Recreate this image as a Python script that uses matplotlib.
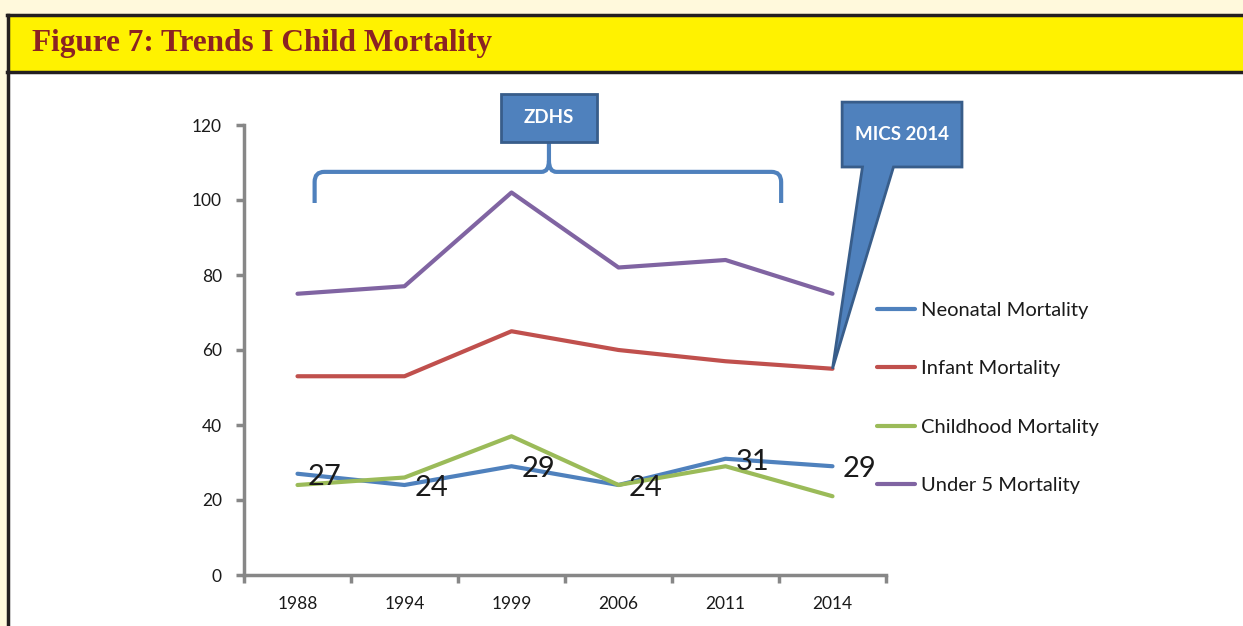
import numpy as np
import matplotlib
matplotlib.use("Agg")
import matplotlib.pyplot as plt
from matplotlib.patches import Rectangle, Polygon, PathPatch
from matplotlib.path import Path

# ---data
years = ["1988", "1994", "1999", "2006", "2011", "2014"]
neonatal = [27, 24, 29, 24, 31, 29]
infant = [53, 53, 65, 60, 57, 55]
childhood = [24, 26, 37, 24, 29, 21]
under5 = [75, 77, 102, 82, 84, 75]
y_ticks = [0, 20, 40, 60, 80, 100, 120]

series = [
    ("Neonatal Mortality", neonatal, "#4f81bd"),
    ("Infant Mortality", infant, "#c0504d"),
    ("Childhood Mortality", childhood, "#9bbb59"),
    ("Under 5 Mortality", under5, "#8064a2"),
]

W, H = 1243, 626
plt.rcParams["font.family"] = ["Lato", "DejaVu Sans"]
fig = plt.figure(figsize=(W / 100, H / 100), dpi=100, facecolor="white")

def fx(px):
    return px / W

def fy(py):
    return 1 - py / H

# ---page frame and yellow header
cream = "#fff9dc"
fig.patches.append(Rectangle((0, fy(14)), 1, 14 / H, transform=fig.transFigure,
                             fc=cream, ec="none", zorder=0))
fig.patches.append(Rectangle((0, 0), fx(7), 1, transform=fig.transFigure,
                             fc=cream, ec="none", zorder=0))
fig.patches.append(Rectangle((fx(8), fy(72)), 1, 58 / H, transform=fig.transFigure,
                             fc="#fff200", ec="none", zorder=1))
for yy in (15, 72):
    fig.lines.append(plt.Line2D([fx(7), 1], [fy(yy), fy(yy)], transform=fig.transFigure,
                                color="#231f20", lw=2.5, zorder=2))
fig.lines.append(plt.Line2D([fx(8), fx(8)], [0, fy(15)], transform=fig.transFigure,
                            color="#231f20", lw=2.5, zorder=2))
fig.text(fx(32), fy(43), "Figure 7: Trends I Child Mortality", family="Liberation Serif",
         weight="bold", fontsize=22.5, color="#8b2323", va="center", ha="left")

# ---chart
ax = fig.add_axes([fx(244), fy(575), 642 / W, 450 / H])
ax.set_facecolor("none")
x = np.arange(len(years))
for name, vals, col in series:
    ax.plot(x, vals, color=col, lw=3, label=name, solid_capstyle="round", zorder=3)

for xi, v in zip(x, neonatal):
    ax.annotate(str(v), (xi, v), xytext=(10, -3), textcoords="offset pixels",
                fontsize=21, color="#1a1a1a", ha="left", va="center", zorder=4)

ax.set_xlim(-0.5, 5.5)
ax.set_ylim(0, 120)
ax.set_yticks(y_ticks)
ax.set_xticks(x)
ax.set_xticklabels(years)
ax.set_xticks(np.arange(-0.5, 6, 1), minor=True)
for s in ("top", "right"):
    ax.spines[s].set_visible(False)
for s in ("left", "bottom"):
    ax.spines[s].set_color("#878787")
    ax.spines[s].set_linewidth(2.5)
ax.tick_params(axis="y", direction="out", length=6, width=2.5, color="#878787",
               labelsize=12.5, labelcolor="#1a1a1a", pad=10)
ax.tick_params(axis="x", which="major", length=0, labelsize=12.5, labelcolor="#1a1a1a", pad=15)
ax.tick_params(axis="x", which="minor", direction="out", length=6, width=2.5, color="#878787")

# ---ZDHS brace and box
x0, x1, xc = 0.16, 4.52, 2.35
yb, ye, yt = 107.5, 99.2, 115.5
verts = [(x0, ye), (x0, yb - 2.7), (x0, yb), (x0 + 0.09, yb), (xc - 0.07, yb), (xc, yb),
         (xc, yb + 3), (xc, yt),
         (xc, yb + 3), (xc, yb), (xc + 0.07, yb), (x1 - 0.09, yb), (x1, yb), (x1, yb - 2.7),
         (x1, ye)]
codes = [Path.MOVETO, Path.LINETO, Path.CURVE3, Path.CURVE3, Path.LINETO, Path.CURVE3,
         Path.CURVE3, Path.LINETO,
         Path.MOVETO, Path.CURVE3, Path.CURVE3, Path.LINETO, Path.CURVE3, Path.CURVE3,
         Path.LINETO]
ax.add_patch(PathPatch(Path(verts, codes), fill=False, ec="#4f81bd", lw=3,
                       clip_on=False, zorder=5))
ax.add_patch(Rectangle((1.90, yt), 0.90, 12.8, fc="#4f81bd", ec="#385d8a", lw=2,
                       clip_on=False, zorder=6))
ax.text(2.35, yt + 6.4, "ZDHS", color="white", weight="bold", fontsize=13.5,
        ha="center", va="center", zorder=7)

# ---MICS 2014 callout pointing at the 2014 infant value
tip = (x[-1], infant[-1])
callout = [(5.09, 126.1), (6.21, 126.1), (6.21, 108.8), (5.57, 108.8), tip,
           (5.28, 108.8), (5.09, 108.8)]
ax.add_patch(Polygon(callout, closed=True, fc="#4f81bd", ec="#385d8a", lw=2,
                     clip_on=False, zorder=6))
ax.text(5.65, 117.5, "MICS 2014", color="white", weight="bold", fontsize=13.5,
        ha="center", va="center", zorder=7)

# ---legend
fig.legend(loc="upper left", bbox_to_anchor=(fx(877), fy(302)), frameon=False,
           fontsize=14.5, handlelength=1.9, handletextpad=0.3, labelspacing=2.05,
           borderaxespad=0, borderpad=0, labelcolor="#1a1a1a")

fig.savefig("out.png", dpi=100)
